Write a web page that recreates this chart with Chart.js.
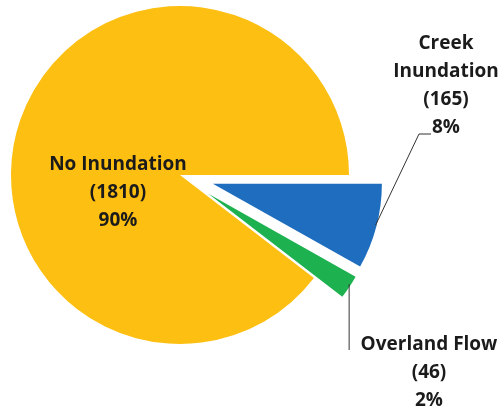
<!DOCTYPE html>
<html>
<head>
<meta charset="utf-8">
<script src="https://cdn.jsdelivr.net/npm/chart.js@4/dist/chart.umd.min.js"></script>
<style>
  html, body { margin: 0; padding: 0; background: #fff; }
  #wrap { width: 499px; height: 412px; position: relative; }
</style>
</head>
<body>
<div id="wrap"><canvas id="pieChart"></canvas></div>
<script>
// slices in clockwise order, starting at 3 o'clock
const categories = ['Creek Inundation', 'Overland Flow', 'No Inundation'];
const counts = [165, 46, 1810];
const labelLines = [['Creek', 'Inundation'], ['Overland Flow'], ['No Inundation']];
const sliceColors = ['#1f6dbf', '#1db150', '#fdbf12'];
const explode = [34, 34, 0]; // px each slice is pulled out

const total = counts.reduce((a, b) => a + b, 0);
const percents = counts.map(c => Math.round(c / total * 100));

// where each text block is centred (first line) and whether it gets a leader line
const labelPlace = [
  { x: 446, y: 44, leader: 'creek' },
  { x: 429, y: 345, leader: 'overland' },
  { x: 118, y: 165, leader: null }
];

const FONT = 'bold 19px "Open Sans", "Noto Sans", sans-serif';
const LINE_H = 28;

// ArcElement moves a slice by offset/4, grows its radius and trims its angle;
// undo the radius growth and the trim so exploded slices keep their true size
const keepRadius = {
  id: 'keepRadius',
  beforeDatasetsDraw(chart) {
    const meta = chart.getDatasetMeta(0);
    const R = meta.controller.outerRadius;
    meta.data.forEach(arc => {
      if (arc._base === undefined) arc._base = [arc.startAngle, arc.endAngle];
      const fix = 1 - Math.sin(Math.min(Math.PI, arc.circumference));
      const grow = (arc.options.offset || 0) / 4 * fix;
      const widen = grow / (Math.PI * R) / 2;
      arc.outerRadius = R - grow;
      arc.startAngle = arc._base[0] - widen;
      arc.endAngle = arc._base[1] + widen;
    });
  }
};

const pieLabels = {
  id: 'pieLabels',
  afterDatasetsDraw(chart) {
    const ctx = chart.ctx;
    const meta = chart.getDatasetMeta(0);
    const R = meta.controller.outerRadius;
    ctx.save();

    // leader lines from the slice edge out to the text
    ctx.strokeStyle = '#333';
    ctx.lineWidth = 1;
    meta.data.forEach((arc, i) => {
      const place = labelPlace[i];
      if (!place.leader) return;
      const mid = (arc.startAngle + arc.endAngle) / 2;
      const d = explode[i] + R - 5;
      const ax = arc.x + Math.cos(mid) * d;
      const ay = arc.y + Math.sin(mid) * d;
      ctx.beginPath();
      if (place.leader === 'creek') {
        ctx.moveTo(ax + 4, ay);
        ctx.lineTo(419, 134);
        ctx.lineTo(431, 134);
      } else {
        ctx.moveTo(ax + 4, ay);
        ctx.lineTo(ax + 4, 350);
      }
      ctx.stroke();
    });

    ctx.fillStyle = '#1b1b1b';
    ctx.font = FONT;
    ctx.textAlign = 'center';
    ctx.textBaseline = 'middle';
    labelPlace.forEach((place, i) => {
      const lines = labelLines[i].concat(['(' + counts[i] + ')', percents[i] + '%']);
      lines.forEach((t, k) => ctx.fillText(t, place.x, place.y + k * LINE_H));
    });
    ctx.restore();
  }
};

new Chart(document.getElementById('pieChart'), {
  type: 'pie',
  data: {
    labels: categories,
    datasets: [{
      data: counts,
      backgroundColor: sliceColors,
      borderWidth: 0,
      offset: explode.map(o => o * 4)
    }]
  },
  options: {
    responsive: true,
    maintainAspectRatio: false,
    animation: false,
    rotation: 90,
    radius: 169,
    layout: { padding: { left: 0, right: 139, top: 0, bottom: 62 } },
    plugins: {
      legend: { display: false },
      tooltip: { enabled: false }
    }
  },
  plugins: [keepRadius, pieLabels]
});
</script>
</body>
</html>
